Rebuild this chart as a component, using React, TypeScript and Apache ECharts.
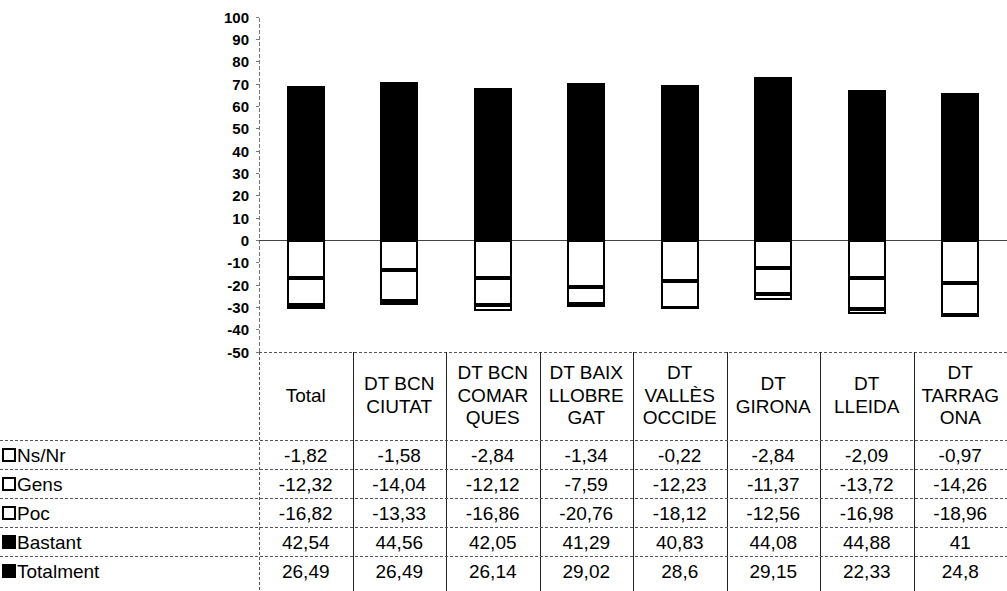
import React, { useEffect, useRef } from "react";
import * as echarts from "echarts";

const categories: string[][] = [
  ["Total"],
  ["DT BCN", "CIUTAT"],
  ["DT BCN", "COMAR", "QUES"],
  ["DT BAIX", "LLOBRE", "GAT"],
  ["DT", "VALLÈS", "OCCIDE"],
  ["DT", "GIRONA"],
  ["DT", "LLEIDA"],
  ["DT", "TARRAG", "ONA"],
];

const nsNr = [-1.82, -1.58, -2.84, -1.34, -0.22, -2.84, -2.09, -0.97];
const gens = [-12.32, -14.04, -12.12, -7.59, -12.23, -11.37, -13.72, -14.26];
const poc = [-16.82, -13.33, -16.86, -20.76, -18.12, -12.56, -16.98, -18.96];
const bastant = [42.54, 44.56, 42.05, 41.29, 40.83, 44.08, 44.88, 41];
const totalment = [26.49, 26.49, 26.14, 29.02, 28.6, 29.15, 22.33, 24.8];

const yTicks = [100, 90, 80, 70, 60, 50, 40, 30, 20, 10, 0, -10, -20, -30, -40, -50];

const tableRows = [
  { name: "Ns/Nr", values: nsNr, filled: false },
  { name: "Gens", values: gens, filled: false },
  { name: "Poc", values: poc, filled: false },
  { name: "Bastant", values: bastant, filled: true },
  { name: "Totalment", values: totalment, filled: true },
];

const FONT = "Liberation Sans, Arial, sans-serif";

function fmt(v: number): string {
  return String(v).replace(".", ",");
}

export default function App() {
  const ref = useRef<HTMLDivElement>(null);

  useEffect(() => {
    if (!ref.current) return;
    const styleEl = document.createElement("style");
    styleEl.textContent = "#chart-box svg path { shape-rendering: crispEdges; }";
    document.head.appendChild(styleEl);

    const chart = echarts.init(ref.current, null, { renderer: "svg" });

    const W = 1007;
    const H = 591;
    const gridLeft = 259;
    const gridTop = 17;
    const gridRight = 0;
    const gridBottomY = 352;
    const plotW = W - gridLeft - gridRight;
    const colW = plotW / categories.length;
    const headerBottom = 440;
    const rowH = 29;

    const graphic: any[] = [];
    const lineStyle = { stroke: "#222", lineWidth: 1 };
    const dashStyle = { stroke: "#555", lineWidth: 1, lineDash: [3, 2] };
    const textBase = { fontFamily: FONT, fontSize: 19, fill: "#000", verticalAlign: "middle" };

    graphic.push({ type: "line", shape: { x1: gridLeft, y1: gridBottomY + 0.5, x2: W, y2: gridBottomY + 0.5 }, style: dashStyle, silent: true });
    for (let i = 0; i <= categories.length; i++) {
      const x = Math.round(gridLeft + i * colW) + 0.5;
      graphic.push({
        type: "line",
        shape: { x1: x, y1: gridBottomY, x2: x, y2: H },
        style: i === 0 ? dashStyle : lineStyle,
        silent: true,
      });
    }
    categories.forEach((lines, i) => {
      const cx = gridLeft + (i + 0.5) * colW;
      const lh = 22.5;
      const cy = 395;
      const startY = cy - ((lines.length - 1) * lh) / 2;
      lines.forEach((t, j) => {
        graphic.push({
          type: "text",
          x: cx,
          y: startY + j * lh,
          style: { ...textBase, text: t, align: "center" },
          silent: true,
        });
      });
    });
    tableRows.forEach((row, r) => {
      const yTop = headerBottom + r * rowH;
      const cy = yTop + rowH / 2 + 0.5;
      graphic.push({ type: "line", shape: { x1: 0, y1: yTop + 0.5, x2: W, y2: yTop + 0.5 }, style: dashStyle, silent: true });
      graphic.push({
        type: "rect",
        shape: { x: 3, y: cy - 6, width: 12, height: 12 },
        style: { fill: row.filled ? "#000" : "#fff", stroke: "#000", lineWidth: 2 },
        silent: true,
      });
      graphic.push({
        type: "text",
        x: 17,
        y: cy,
        style: { ...textBase, text: row.name, align: "left" },
        silent: true,
      });
      row.values.forEach((v, i) => {
        graphic.push({
          type: "text",
          x: gridLeft + (i + 0.5) * colW,
          y: cy,
          style: { ...textBase, text: fmt(v), align: "center" },
          silent: true,
        });
      });
    });

    const catNames = categories.map((c) => c.join(" "));
    const posStyle = { color: "#000", borderColor: "#000", borderWidth: 2 };
    const negStyle = { color: "#fff", borderColor: "#000", borderWidth: 2 };
    const barWidth = 38;

    chart.setOption({
      animation: false,
      backgroundColor: "#fff",
      grid: { left: gridLeft, top: gridTop, right: gridRight, bottom: H - gridBottomY, containLabel: false },
      xAxis: {
        type: "category",
        data: catNames,
        axisLine: { show: true, onZero: true, lineStyle: { color: "#444", width: 1 } },
        axisTick: { show: false },
        axisLabel: { show: false },
        splitLine: { show: false },
      },
      yAxis: {
        type: "value",
        min: yTicks[yTicks.length - 1],
        max: yTicks[0],
        interval: 10,
        axisLine: { show: true, lineStyle: { color: "#777", width: 1, type: "dashed" } },
        axisTick: { show: true, length: 3, lineStyle: { color: "#777" } },
        axisLabel: { fontFamily: FONT, fontSize: 15, fontWeight: "bold", color: "#000", margin: 10 },
        splitLine: { show: false },
      },
      series: [
        { name: "Bastant", type: "bar", stack: "a", data: bastant, barWidth, itemStyle: posStyle },
        { name: "Totalment", type: "bar", stack: "a", data: totalment, barWidth, itemStyle: posStyle },
        { name: "Poc", type: "bar", stack: "a", data: poc, barWidth, itemStyle: negStyle },
        { name: "Gens", type: "bar", stack: "a", data: gens, barWidth, itemStyle: negStyle },
        { name: "Ns/Nr", type: "bar", stack: "a", data: nsNr, barWidth, itemStyle: negStyle },
      ],
      graphic,
    });

    return () => {
      chart.dispose();
      styleEl.remove();
    };
  }, []);

  return (
    <div
      id="chart-box"
      ref={ref}
      style={{ position: "fixed", left: 0, top: 0, width: 1007, height: 591, background: "#fff" }}
    />
  );
}
